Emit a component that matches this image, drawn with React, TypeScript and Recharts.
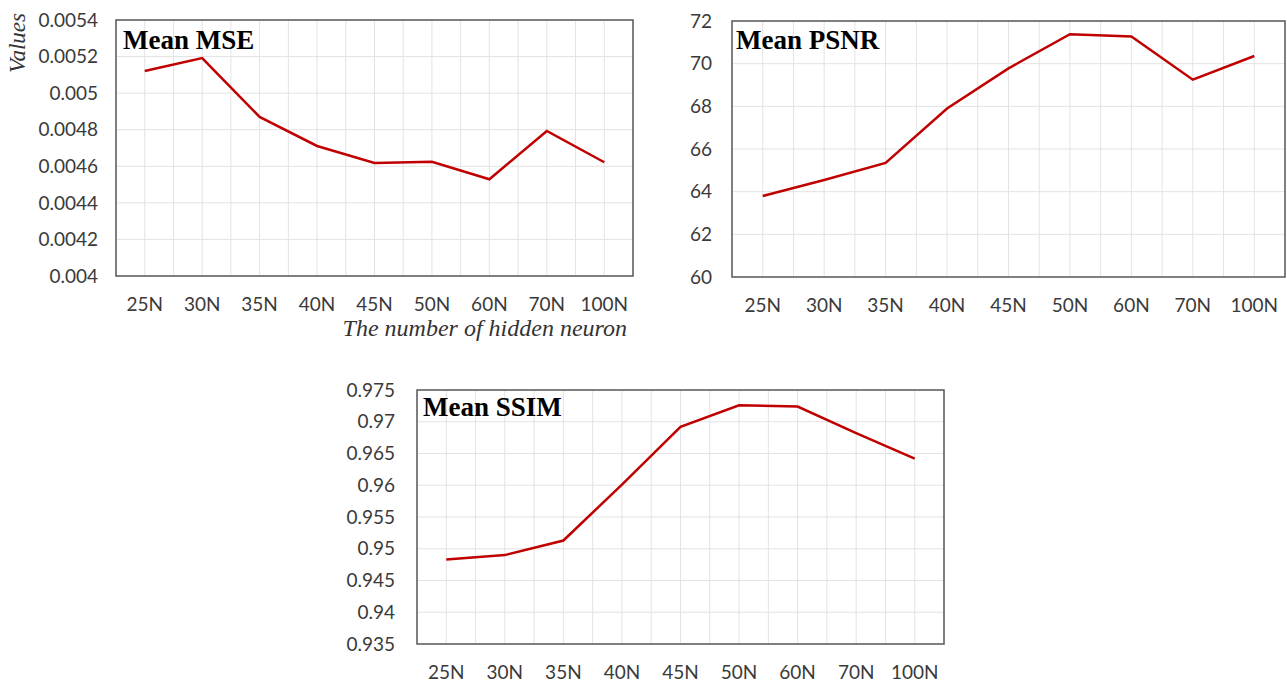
import React from 'react'
import {
  LineChart,
  Line,
  XAxis,
  YAxis,
  CartesianGrid,
  ReferenceArea,
} from 'recharts'

const CATEGORIES = ['25N', '30N', '35N', '40N', '45N', '50N', '60N', '70N', '100N']

const MSE = [0.005121, 0.005192, 0.00487, 0.004711, 0.004618, 0.004625, 0.004529, 0.004793, 0.004622]
const PSNR = [63.8, 64.55, 65.35, 67.9, 69.78, 71.38, 71.27, 69.25, 70.36]
const SSIM = [0.9483, 0.949, 0.9513, 0.9601, 0.9692, 0.9726, 0.9724, 0.9682, 0.9642]

const MSE_TICKS = [0.004, 0.0042, 0.0044, 0.0046, 0.0048, 0.005, 0.0052, 0.0054]
const PSNR_TICKS = [60, 62, 64, 66, 68, 70, 72]
const SSIM_TICKS = [0.935, 0.94, 0.945, 0.95, 0.955, 0.96, 0.965, 0.97, 0.975]

// category centres plus the midpoints between them (Excel-style minor grid)
const X_TICKS = CATEGORIES.flatMap((_, i) => (i === 0 ? [i] : [i - 0.5, i]))

const TICK_STYLE = { fontSize: 19, fill: '#3a3a3a', fontFamily: 'Lato, "Open Sans", sans-serif' }

interface MetricChartProps {
  values: number[]
  yTicks: number[]
  digits: number
  left: number
  top: number
  width: number
  height: number
  margin: { top: number; right: number; bottom: number; left: number }
  yWidth: number
  yGap: number
  xHeight: number
  xGap: number
}

function MetricChart(p: MetricChartProps) {
  const data = p.values.map((v, i) => ({ i, v }))
  const yMin = p.yTicks[0]
  const yMax = p.yTicks[p.yTicks.length - 1]
  return (
    <div style={{ position: 'absolute', left: p.left, top: p.top }}>
      <LineChart width={p.width} height={p.height} data={data} margin={p.margin}>
        <CartesianGrid stroke="#e3e3e3" strokeWidth={1} />
        <XAxis
          type="number"
          dataKey="i"
          domain={[-0.5, CATEGORIES.length - 0.5]}
          ticks={X_TICKS}
          interval={0}
          tickFormatter={(i: number) => (Number.isInteger(i) ? CATEGORIES[i] : '')}
          tick={TICK_STYLE}
          tickLine={false}
          axisLine={false}
          height={p.xHeight}
          tickMargin={p.xGap}
        />
        <YAxis
          type="number"
          domain={[yMin, yMax]}
          ticks={p.yTicks}
          interval={0}
          tickFormatter={(v: number) => String(parseFloat(v.toFixed(p.digits)))}
          tick={TICK_STYLE}
          tickLine={false}
          axisLine={false}
          width={p.yWidth}
          tickMargin={p.yGap}
        />
        <ReferenceArea
          x1={-0.5}
          x2={CATEGORIES.length - 0.5}
          y1={yMin}
          y2={yMax}
          fill="none"
          fillOpacity={0}
          stroke="#595959"
          strokeWidth={1.5}
        />
        <Line
          dataKey="v"
          stroke="#c00000"
          strokeWidth={2.5}
          dot={false}
          activeDot={false}
          isAnimationActive={false}
        />
      </LineChart>
    </div>
  )
}

const titleStyle: React.CSSProperties = {
  position: 'absolute',
  fontFamily: '"Liberation Serif", "Times New Roman", serif',
  fontWeight: 'bold',
  fontSize: 27,
  lineHeight: '27px',
  color: '#000',
  whiteSpace: 'nowrap',
}

const axisTitleStyle: React.CSSProperties = {
  position: 'absolute',
  fontFamily: '"Liberation Serif", "Times New Roman", serif',
  fontStyle: 'italic',
  fontSize: 24,
  lineHeight: '24px',
  color: '#333',
  whiteSpace: 'nowrap',
}

export default function App() {
  return (
    <div style={{ position: 'absolute', left: 0, top: 0, width: 1287, height: 683, background: '#fff' }}>
      <MetricChart
        values={MSE}
        yTicks={MSE_TICKS}
        digits={4}
        left={0}
        top={0}
        width={650}
        height={345}
        margin={{ top: 20, right: 17, bottom: 29, left: 30 }}
        yWidth={86}
        yGap={12}
        xHeight={40}
        xGap={16}
      />
      <MetricChart
        values={PSNR}
        yTicks={PSNR_TICKS}
        digits={0}
        left={650}
        top={0}
        width={637}
        height={345}
        margin={{ top: 21, right: 2, bottom: 28, left: 22 }}
        yWidth={60}
        yGap={14}
        xHeight={40}
        xGap={16}
      />
      <MetricChart
        values={SSIM}
        yTicks={SSIM_TICKS}
        digits={3}
        left={320}
        top={369}
        width={640}
        height={314}
        margin={{ top: 21, right: 16, bottom: 0, left: 27 }}
        yWidth={70}
        yGap={16}
        xHeight={39}
        xGap={16}
      />

      <div style={{ ...titleStyle, left: 123, top: 27 }}>Mean MSE</div>
      <div style={{ ...titleStyle, left: 736, top: 27 }}>Mean PSNR</div>
      <div style={{ ...titleStyle, left: 423, top: 394 }}>Mean SSIM</div>

      <div
        style={{
          ...axisTitleStyle,
          fontSize: 23,
          lineHeight: '23px',
          left: 17,
          top: 43,
          transform: 'translate(-50%, -50%) rotate(-90deg)',
        }}
      >
        Values
      </div>
      <div style={{ ...axisTitleStyle, left: 300, width: 327, top: 316, textAlign: 'right' }}>
        The number of hidden neuron
      </div>
    </div>
  )
}
